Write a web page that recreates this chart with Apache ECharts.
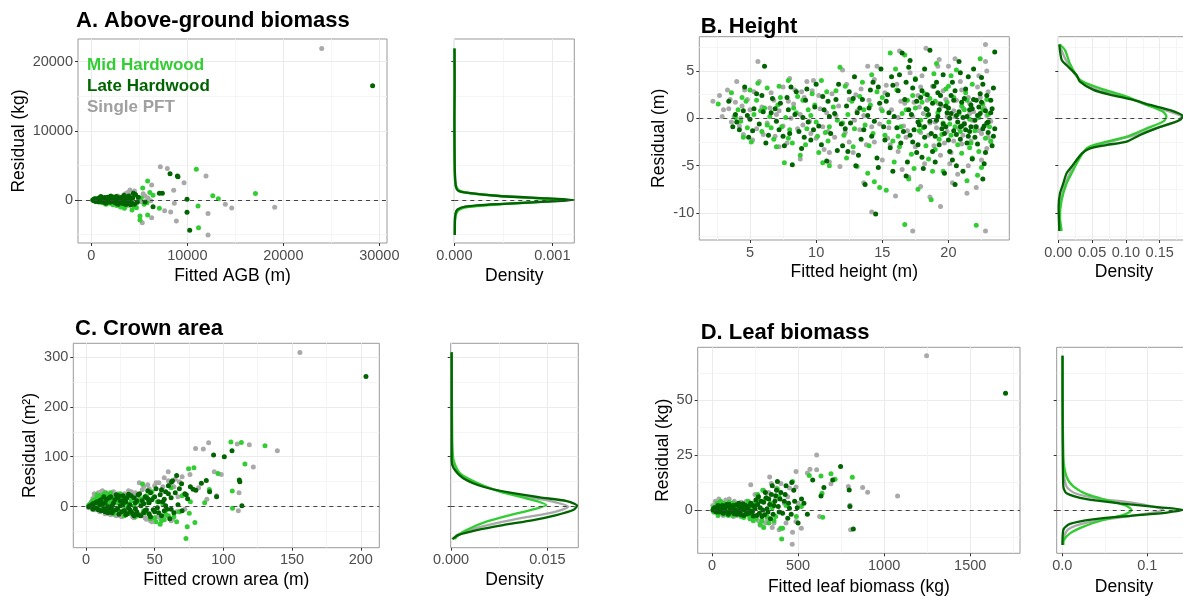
<!DOCTYPE html>
<html><head><meta charset="utf-8">
<script src="https://cdn.jsdelivr.net/npm/echarts@6/dist/echarts.min.js"></script>
<style>html,body{margin:0;padding:0;background:#fff}#c{width:1183px;height:600px}</style>
</head><body><div id="c"></div>
<script>
// ---------------- DATA ----------------
const groupNames = ['Single PFT', 'Mid Hardwood', 'Late Hardwood'];

// Panel A: Above-ground biomass  [fitted, residual]
const agbSingle = [[350,100],[750,-100],[1150,250],[1550,-250],[1950,400],[2350,-350],[2750,600],[3150,-500],[3550,900],[3950,-800],[4500,1300],[4700,-500],[5200,-200],[5600,600],[5900,300],[6200,-100],[4030,1440],[5310,-3280],[6290,2170],[6290,-2550],[7190,4810],[7640,-1540],[7920,4570],[8270,-1730],[8580,1400],[8650,-480],[8860,-3030],[9660,2500],[11950,3470],[12160,-1930],[12160,-5060],[13960,-625],[14625,-1160],[19100,-1060],[24000,21900],
  [500,0],[900,150],[1300,-150],[1700,200],[2100,-200],[2500,300],[2900,-300],[3300,500],[3700,-400],[4100,700],[4300,-300],[4900,200],[5400,900],[3800,1100]];
const agbMid = [[200,0],[450,200],[650,-200],[850,350],[1050,-300],[1250,150],[1450,-500],[1650,250],[1850,-150],[2050,600],[2250,-700],[2450,100],[2650,-800],[2850,400],[3050,-1000],[3250,250],[3450,-1200],[3650,500],[3850,-300],[4050,150],[4240,-1440],[4450,-900],[4700,-1100],[5070,-2310],[5070,-2890],[5200,300],[5350,1730],[5500,-600],[5800,-400],[5870,2750],[5870,-2170],[6100,1100],[6430,680],[7090,-1200],[10940,4430],[11120,-870],[11170,-4000],[12650,620],[13230,190],[17100,950],
  [300,-100],[550,100],[750,-300],[950,200],[1150,-400],[1350,300],[1550,-600],[1750,0],[1950,-450],[2150,350],[2350,-500],[2550,-200],[2750,-600],[2950,100],[3150,-800],[3350,-300],[3550,-900],[3750,100],[4150,-600],[4350,400]];
const agbLate = [[300,100],[400,-50],[500,-150],[600,50],[700,200],[800,-250],[900,-50],[1000,150],[1000,500],[1100,300],[1200,-100],[1300,-200],[1400,350],[1500,100],[1500,-450],[1600,-350],[1700,400],[1800,200],[1900,-300],[2000,-150],[2000,550],[2100,0],[2200,450],[2300,250],[2400,-50],[2500,-400],[2500,300],[2600,500],[2700,150],[2800,-600],[2900,-250],[3000,100],[3000,-150],[3100,350],[3200,-350],[3300,-500],[3400,700],[3500,200],[3600,-650],[3700,-100],[3900,600],[4100,-700],[4300,300],[4380,970],[4600,800],[4800,-300],[4900,400],[5600,-300],[6430,-960],[7090,970],[7400,970],[8200,3810],[8970,3470],[9030,3370],[9970,100],[9970,-1780],[10250,-4380],[29300,16500],
  [150,0],[250,-80],[350,180],[450,-200],[550,60],[650,-100],[750,250],[850,120],[950,-180],[1050,-20],[1150,180],[1250,-300],[1350,50],[1450,250],[1550,-150],[1650,-50],[1750,300],[1850,-200],[1950,100],[2050,-300],[2150,200],[2250,-100],[2350,400],[2450,-250],[2550,50],[2650,-450],[2750,350],[2850,0],[3050,-400],[3150,150],[3250,-200],[3450,400],[3550,-300],[3750,300],[3850,-500],[4000,200],[4200,-400],[4500,-600]];
// densities [density, residual]
const agbDensSingle = [[0.000004,-5060],[0.000005,-3000],[0.000012,-2000],[0.00003,-1400],[0.00012,-960],[0.00045,-580],[0.0009,-250],[0.00117,0],[0.0009,250],[0.00045,580],[0.00012,1060],[0.00004,1400],[0.000015,2000],[0.000006,4000],[0.000003,8000],[0.000002,14000],[0.000002,21900]];
const agbDensMid = [[0.000006,-5060],[0.000008,-3000],[0.00002,-2000],[0.00005,-1400],[0.00015,-1000],[0.00048,-600],[0.00088,-260],[0.00108,0],[0.00085,260],[0.00045,600],[0.00013,1050],[0.00004,1500],[0.00001,2500],[0.000004,4500],[0.000002,10000],[0.000002,21900]];
const agbDensLate = [[0.000005,-5060],[0.000006,-3000],[0.000012,-2000],[0.00003,-1400],[0.00011,-960],[0.00046,-580],[0.00094,-240],[0.00122,0],[0.00094,240],[0.00046,580],[0.000125,1060],[0.00004,1350],[0.000017,1930],[0.000006,4000],[0.000002,8000],[0.000001,12000],[0.000004,16500],[0.000002,21900]];

// Panel B: Height
const hSingle = [[2.2,1.8],[2.7,2.4],[3.3,3.0],[4.0,3.9],[3.4,1.0],[3.8,0.2],[4.2,-0.8],[4.5,-1.7],[4.8,2.0],[5.2,-2.3],[5.6,6.0],[5.7,3.9],[5.9,1.2],[6.3,-0.5],[6.6,2.7],[6.9,-1.9],[7.2,0.8],[7.5,3.3],[7.8,-2.6],[8.0,4.2],[8.3,1.5],[8.6,-1.1],[8.8,-4.3],[9.1,2.2],[9.3,3.9],[9.5,-0.3],[9.8,4.0],[10.0,-2.1],[10.3,1.0],[10.6,-3.3],[11.0,-4.6],[11.2,2.6],[11.5,0.3],[11.8,-5.1],[12.0,5.1],[12.2,-1.5],[12.5,2.0],[12.8,-3.6],[13.1,0.8],[13.4,3.1],[13.6,-6.8],[13.8,-2.8],[14.0,1.9],[14.2,-9.9],[14.4,4.1],[14.6,5.5],[14.8,-0.6],[15.0,-4.4],[15.2,2.7],[15.4,-2.1],[15.7,0.9],[16.0,-8.2],[16.1,3.6],[16.3,7.1],[16.5,-5.4],[16.7,1.6],[16.9,-1.3],[17.1,4.8],[17.3,-11.9],[17.5,-3.0],[17.7,2.4],[17.9,-7.2],[18.1,0.5],[18.3,7.4],[18.5,-1.8],[18.6,-8.3],[18.8,3.4],[19.0,-0.4],[19.2,5.5],[19.4,-9.3],[19.5,1.3],[19.7,-2.6],[19.9,0.2],[20.0,5.5],[20.2,-3.6],[20.3,-6.8],[20.5,6.3],[20.6,1.9],[20.8,-1.1],[21.0,3.0],[21.2,-0.5],[21.4,-7.9],[21.5,2.2],[21.7,-2.4],[21.9,0.7],[22.1,-7.3],[22.3,4.5],[22.5,-1.6],[22.7,1.1],[22.8,7.8],[22.8,6.0],[22.8,-11.9],[22.9,-3.2],[23.0,2.8],[23.2,-0.3],[20.4,0.8],[21.1,-1.8],[19.6,2.9],[18.9,-2.9],[22.0,-0.9],[21.6,1.6],[17.8,1.2],[16.6,-0.8],[15.5,-1.0],[12.9,-0.2],[10.8,0.6],[9.0,-0.7],[7.0,0.4],[5.0,0.9],[4.4,1.3],[3.6,-0.4],
  [17.3,0.2],[17.9,-1.5],[18.4,1.9],[19.1,-1.0],[19.8,2.0],[20.4,-2.4],[21.1,1.1],[21.8,-0.2],[22.4,2.2],[23.0,-2.0],[22.2,3.3],[20.9,3.9],[19.4,-3.9],[18.0,4.5],[16.4,1.8],[15.3,3.5],[14.4,-2.5],[13.3,-1.2],[12.3,3.6],[11.4,-2.0],[10.5,-0.9],[9.7,2.9],[8.8,0.4],[7.9,1.8],[7.2,-3.0],[6.5,1.1],[5.5,-1.1],[4.6,3.0],[3.9,1.7],[3.0,0.9],[21.5,-5.0],[16.2,-3.5],[13.9,5.5],[11.0,-3.6],[8.4,3.0],[22.9,5.0],[19.3,6.2],[20.7,-5.9],
  [2.9,0.2],[3.5,2.0],[4.3,0.0],[5.3,2.8],[6.0,-1.7],[6.8,1.9],[7.5,-0.8],[8.1,0.0],[8.9,2.8],[9.6,-1.6],[10.2,2.4],[10.9,-1.4],[11.7,1.3],[12.5,-2.5],[13.0,2.5],[13.6,0.3],[14.2,-0.9],[14.9,1.0],[15.6,-2.8],[16.2,0.1],[16.8,-2.0],[17.4,1.7],[17.9,3.3],[18.6,-0.5],[19.2,1.6],[19.9,-1.4],[20.5,0.2],[21.0,-2.7],[21.6,0.5],[22.3,-1.3],[22.9,0.3],[23.2,-2.5],[18.2,-4.8],[20.1,-4.8],[22.5,-4.4],[17.0,-6.2]];
const hMid = [[2.6,1.5],[3.6,2.7],[4.3,-0.3],[4.7,1.8],[5.1,-2.5],[5.6,3.7],[5.9,-1.4],[6.3,3.2],[6.5,0.2],[6.8,-2.2],[7.1,1.4],[7.4,-0.9],[7.6,-4.7],[7.9,4.0],[8.2,-2.6],[8.5,0.6],[8.8,-3.9],[9.0,1.9],[9.3,-1.1],[9.7,2.6],[10.0,-0.4],[10.4,4.0],[10.5,-4.7],[10.9,-2.4],[11.3,1.2],[11.8,5.4],[12.1,-1.8],[12.4,0.4],[12.8,-3.0],[13.1,-5.1],[13.3,2.3],[13.7,-0.7],[14.1,1.4],[14.4,-6.7],[14.8,-7.3],[15.0,0.8],[15.3,-7.6],[15.6,6.9],[15.8,-2.4],[16.1,3.0],[16.4,-0.9],[16.7,6.7],[16.7,-11.2],[16.9,1.9],[17.2,-3.8],[17.5,4.2],[17.7,-7.5],[17.9,-0.2],[18.2,2.6],[18.5,-4.3],[18.7,-8.6],[18.9,4.7],[19.2,0.6],[19.5,-1.7],[19.8,3.1],[20.1,-0.6],[20.4,2.2],[20.7,-2.8],[21.0,1.3],[21.4,-6.6],[21.6,-0.1],[21.8,3.6],[22.1,-11.3],[22.2,-6.0],[22.4,6.3],[22.6,1.5],[22.8,-2.1],[23.0,0.4],[20.9,-1.4],[19.0,-3.3],[18.0,1.7],[16.2,-1.9],[14.6,2.8],[12.7,1.8],[11.0,-0.9],[9.6,0.3],[8.0,-1.2],[6.1,1.1],[5.3,0.4],[4.1,0.9],[21.3,2.7],[20.2,4.5],[17.4,-5.3],[15.9,-4.6],[13.9,-5.8],[10.2,-3.6],[7.3,2.2],[22.3,-3.5],[19.6,-5.6],[21.8,-4.2],
  [17.5,1.1],[18.1,-1.0],[18.6,2.1],[19.3,-2.2],[19.9,1.7],[20.5,-0.9],[21.2,0.9],[21.7,-2.6],[22.3,0.1],[22.9,2.0],[20.0,3.4],[21.0,-3.7],[22.5,-5.2],[18.3,-2.9],[16.5,0.5],[15.2,-1.8],[14.0,-2.9],[13.5,3.8],[12.0,-0.5],[11.5,2.9],[10.7,-1.5],[9.9,1.4],[9.2,-2.8],[8.6,2.3],[7.7,0.1],[7.0,-3.0],[6.3,-0.7],[5.5,1.9],[4.8,-1.0],[4.4,2.2],[3.9,0.1],[16.0,5.2],[12.3,-4.2],[23.1,-0.9],[19.1,5.8],[17.0,-6.4],
  [4.5,-2.0],[5.0,3.0],[5.8,0.8],[6.6,-1.0],[7.2,3.4],[7.9,-2.1],[8.3,1.1],[9.4,0.9],[10.1,-1.9],[10.8,2.8],[11.6,-0.2],[12.2,3.4],[12.9,-1.1],[13.6,0.9],[14.3,-1.6],[15.0,2.2],[15.5,-0.4],[16.3,-3.0],[16.8,0.9],[17.3,2.4],[17.8,-1.3],[18.4,0.3],[19.0,1.8],[19.6,-0.5],[20.2,-1.8],[20.8,0.5],[21.4,1.9],[22.0,-1.3],[22.6,0.9],[23.2,-2.4],[21.6,-3.1],[18.8,-5.6],[20.6,5.1],[14.2,4.6],[11.0,-5.0]];
const hLate = [[3.4,1.8],[3.9,0.4],[4.2,-1.2],[4.6,3.3],[4.9,-2.0],[5.3,1.0],[5.7,-0.6],[6.1,5.5],[6.4,-1.8],[6.7,2.1],[7.0,-0.3],[7.3,1.6],[7.6,-2.9],[7.9,0.9],[8.2,-4.9],[8.5,2.8],[8.7,-1.4],[9.0,0.1],[9.3,3.1],[9.6,-2.3],[9.9,1.2],[10.2,-0.8],[10.5,2.3],[10.8,-4.5],[11.1,-1.6],[11.4,0.5],[11.7,3.6],[12.0,-2.9],[12.3,1.3],[12.6,-0.5],[12.9,4.4],[13.2,-3.9],[13.5,2.0],[13.7,-7.0],[13.9,0.3],[14.2,-1.9],[14.5,-10.1],[14.7,3.3],[14.9,5.2],[15.1,-0.9],[15.3,1.8],[15.6,-3.1],[15.9,0.2],[16.2,2.9],[16.5,6.9],[16.6,-1.4],[16.8,-6.1],[17.0,0.9],[17.3,-2.5],[17.5,4.1],[17.7,-0.4],[17.9,2.2],[18.1,-5.3],[18.3,1.0],[18.6,7.2],[18.7,-1.6],[18.9,3.4],[19.1,-0.2],[19.3,-2.8],[19.4,1.5],[19.6,4.6],[19.8,-0.9],[19.9,0.6],[20.1,-3.5],[20.2,2.4],[20.4,-1.3],[20.5,-7.0],[20.6,0.3],[20.8,6.0],[20.9,-2.2],[21.0,1.7],[21.2,-0.6],[21.3,3.1],[21.5,-1.9],[21.6,0.9],[21.8,-4.3],[21.9,2.0],[22.0,-0.2],[22.2,-2.7],[22.3,1.2],[22.5,4.3],[22.6,-6.4],[22.7,-0.8],[22.9,2.4],[23.0,-1.5],[23.2,0.6],[23.3,-2.9],[23.5,7.0],[23.4,3.2],[19.5,-1.1],[20.0,1.1],[20.7,-0.4],[21.1,0.1],[21.7,-0.9],[22.4,0.5],[18.5,0.4],[19.2,2.7],[20.3,3.8],[21.4,-2.6],[22.1,1.9],[17.6,-3.6],[16.4,-2.6],[15.4,2.5],[14.0,1.1],[12.2,-1.1],[10.6,0.9],[9.1,-2.0],[7.8,2.2],[6.0,0.7],[5.0,-0.1],[13.0,-5.0],[18.0,-4.1],[20.6,-5.0],[22.8,-3.6],
  [17.2,0.4],[17.4,-1.2],[17.6,1.8],[17.8,-0.7],[18.0,2.9],[18.2,-2.0],[18.4,0.9],[18.6,-0.3],[18.8,1.6],[19.0,-1.9],[19.2,0.2],[19.4,2.4],[19.6,-0.6],[19.8,1.3],[20.0,-2.3],[20.2,0.5],[20.4,1.9],[20.6,-1.7],[20.8,0.7],[21.0,-0.8],[21.2,2.1],[21.4,0.2],[21.6,-1.4],[21.8,1.0],[22.0,-2.0],[22.2,0.3],[22.4,2.6],[22.6,-1.1],[22.8,0.8],[23.0,-0.4],[23.2,1.9],[23.4,-1.9],[19.1,3.8],[20.3,-4.4],[21.5,4.4],[22.7,-4.8],[18.2,5.2],[19.7,-5.8],[21.9,5.2],[16.8,3.8],[15.7,4.4],[14.6,-4.2],[13.4,-2.2],[12.5,2.8],[11.6,-3.4],[10.9,1.8],[10.0,3.6],[9.4,-0.4],[8.9,-3.2],[8.0,-1.6],[7.2,-1.2],[6.6,0.6],[5.9,2.4],[5.2,-1.3],[4.5,0.8],[4.0,-0.4],[14.3,3.8],[13.1,0.6],[15.8,-5.6],[16.9,-4.6],[17.1,6.1],[20.9,4.8],
  [3.7,-0.9],[4.8,0.3],[5.5,2.6],[6.2,-2.6],[6.9,1.0],[7.5,-1.9],[8.1,3.3],[8.4,0.4],[9.2,1.9],[9.8,-1.2],[10.4,-2.8],[11.0,0.2],[11.5,2.0],[11.9,-0.6],[12.4,-3.5],[12.8,2.1],[13.3,1.1],[13.6,-1.2],[14.1,3.0],[14.4,-0.3],[14.8,1.6],[15.2,-2.3],[15.5,0.6],[15.8,3.5],[16.1,-1.0],[16.3,4.6],[16.7,2.0],[17.1,-1.8],[17.3,3.2],[17.7,-2.8],[18.2,-0.9],[18.4,2.5],[18.8,-3.5],[19.3,0.9],[19.7,-1.6],[20.1,0.0],[20.5,2.9],[20.9,-0.9],[21.3,-1.2],[21.7,1.4],[22.1,-0.9],[22.5,1.7],[22.9,-0.5],[23.3,1.0],[23.5,-1.1],[19.0,-4.6],[21.1,-5.6],[17.0,5.4],[14.7,-5.2],[22.6,3.6]];
const hDensSingle = [[0.0015,-11.9],[0.0025,-9.33],[0.0074,-7.57],[0.0148,-6.16],[0.0247,-4.75],[0.042,-3.27],[0.067,-2.64],[0.111,-1.83],[0.145,-1.0],[0.175,-0.35],[0.182,0.18],[0.165,0.7],[0.136,1.3],[0.101,2.2],[0.057,3.06],[0.030,4.2],[0.0123,6.0],[0.0015,7.8]];
const hDensMid = [[0.005,-11.9],[0.0025,-10.4],[0.005,-8.63],[0.0123,-6.87],[0.0197,-5.81],[0.030,-4.4],[0.042,-3.17],[0.062,-2.64],[0.101,-1.94],[0.131,-1.06],[0.155,-0.35],[0.160,0.18],[0.155,0.7],[0.131,1.41],[0.101,2.29],[0.062,3.17],[0.032,4.05],[0.017,5.8],[0.01,7.2],[0.0025,7.8]];
const hDensLate = [[0.0015,-11.9],[0.0005,-9.33],[0.0025,-7.92],[0.0074,-6.87],[0.0123,-5.8],[0.0197,-5.1],[0.035,-3.7],[0.047,-3.17],[0.071,-2.82],[0.101,-2.46],[0.121,-1.76],[0.145,-1.06],[0.18,-0.18],[0.184,0.25],[0.165,0.88],[0.136,1.41],[0.111,1.94],[0.076,2.5],[0.052,3.0],[0.032,3.87],[0.027,4.58],[0.0123,5.6],[0.005,6.16],[0.0015,7.8]];

// Panel C: Crown area
const caSingle = [[2,-2],[4,10],[6,20],[7,-6],[9,28],[10,-10],[12,32],[14,-14],[16,24],[18,-16],[20,30],[22,-18],[24,14],[26,-20],[28,26],[30,-12],[33,30],[35,-22],[37,20],[38.8,48],[40,-15],[42,40],[44,-25],[46,36],[48,-30],[49,-26.7],[50,42],[52,-20],[53,48],[55,30],[57,58],[58,-18],[59.9,70],[61,45],[63,-25],[65,55],[67,20],[70,60],[72,-5],[75.7,64.7],[79.8,116.7],[82,38],[85.4,115.4],[88,15],[89.3,128],[93.4,70],[95.1,22],[98.5,64.7],[110.1,125.4],[110.9,-8],[111.4,28],[118.9,124],[121.8,79.4],[139.3,112],[155.7,308.8],
  [3,6],[5,16],[6,26],[8,-4],[11,30],[13,-8],[15,28],[17,-14],[19,22],[21,-16],[23,26],[25,-18],[27,20],[29,-14],[31,32],[34,-20],[36,28],[39,-18],[41,34],[43,-22],[45,44],[47,-28],[51,48],[54,-22],[56,40],[60,52],[62,-28],[64,40],[66,-10],[68,50]];
const caMid = [[3,5],[5,12],[6,-3],[8,18],[9,8],[10,22],[11,-6],[12,15],[13,25],[14,3],[15,20],[16,-10],[17,12],[18,28],[19,4],[20,-14],[21,16],[23,8],[25,-10],[26,20],[28,-18],[30,6],[32,-12],[34,18],[36,-20],[38,10],[41.2,45.4],[42,-8],[44,22],[46,-16],[48,30],[50,-22],[52,10],[54,-35],[55,-28],[56,5],[58,-15],[60,-18],[62,38],[64,-20],[66,-30],[67.9,-10],[68,-10],[70,22],[72.8,-63.4],[73.7,-40],[74.7,76],[75.2,-13.3],[76,10],[78.6,78],[79.3,-31.4],[86.4,8],[89.8,34.7],[96.1,66.7],[105.5,129.4],[106.5,31.4],[106.7,-3.3],[113.1,128.7],[115.7,85.4],[130.3,122],
  [2,3],[4,8],[6,14],[7,-1],[9,16],[10,-4],[11,20],[12,2],[13,12],[15,-6],[16,24],[17,4],[19,18],[20,-6],[22,14],[24,-12],[26,8],[28,-4],[29,20],[31,-14],[33,12],[35,2],[37,-16],[40,16],[43,-12],[45,8],[47,-24],[49,18],[51,-30],[57,-26],[8,24],[14,28],[18,10],[25,26]];
const caLate = [[2,0],[4,3],[5,-5],[7,8],[8,-3],[10,12],[11,-8],[12,5],[14,-10],[15,15],[16,0],[18,20],[19,-12],[20,7],[22,-6],[23,18],[24,-15],[25,2],[27,22],[28,-8],[29,10],[30,-14],[31,25],[32,4],[33,-10],[35,18],[36,-4],[37,12],[38,-16],[39,26],[40,2],[42,-12],[43,20],[44,-6],[45,32],[46,8],[47,-20],[48,14],[50,-10],[51,36],[52,-2],[54,24],[55,-18],[56,10],[57,15],[58,30],[59,-5],[60,42],[61,-24],[62,18],[62,-5],[62.3,49.4],[63,52],[64,-12],[65,28],[66,62.7],[67,4],[68,36],[69.6,46],[70,-8],[72,26],[73,24],[74,16],[76,40],[78,35],[80,33],[84,47],[87.6,52.7],[90,30],[92.9,103.4],[95.1,20],[100.7,100],[106.3,112],[111.6,53.4],[112,50],[113.5,2],[203.8,260.8],
  [3,2],[5,6],[6,-2],[8,10],[9,-6],[11,14],[13,-4],[14,8],[16,-12],[17,18],[19,2],[20,-8],[21,14],[23,-4],[24,22],[26,-10],[27,6],[29,-16],[30,18],[32,-6],[33,22],[34,-14],[36,8],[37,-10],[38,24],[40,-18],[41,12],[43,-8],[44,18],[46,-14],[47,28],[49,-6],[50,20],[53,-12],[55,34],[57,-8],[58,2],[60,26],[13,20],[18,-4],[25,12],[35,-18],[45,16],[28,14],[22,24],[15,-8],[10,4],[31,-2],[42,6],[53,10]];
const caDensSingle = [[0.0004,-65],[0.0009,-56.7],[0.0029,-46.7],[0.0071,-33],[0.0117,-21],[0.0159,-11.3],[0.0182,0],[0.0154,11.3],[0.0112,21],[0.0071,33],[0.0035,50],[0.0009,70],[0.0002,100],[0.0001,200],[0.0001,309]];
const caDensMid = [[0.0006,-65],[0.0009,-60],[0.0024,-46.7],[0.0055,-30],[0.0092,-16.7],[0.0128,-5.3],[0.0148,3.3],[0.0117,16.7],[0.0076,30],[0.004,48],[0.0014,66.7],[0.0004,93],[0.0002,130],[0.0001,309]];
const caDensLate = [[0.0002,-65],[0.0011,-56.7],[0.004,-46.7],[0.0081,-36.7],[0.0128,-26.7],[0.0164,-16.7],[0.019,-6.7],[0.0196,2],[0.018,11.3],[0.0138,18.7],[0.0092,28],[0.005,40],[0.0019,57],[0.0004,77],[0.0001,93],[0.0001,150],[0.0001,309]];

// Panel D: Leaf biomass
const lbSingle = [[5,2],[20,4],[35,-1],[50,3.5],[65,-2.5],[80,4.5],[95,-1.5],[110,3],[125,-3],[140,2],[155,-2],[170,3.5],[190,-1],[210,2.5],[225,11.5],[240,-3.5],[260,5],[280,-7],[300,9],[320,-4],[335,15],[345,12],[360,-6],[375,10],[390,-9],[420,3],[440,6],[466,-15.7],[468,-10.2],[488,10.4],[488,17.5],[488,-5.3],[500,3],[519,-8.4],[554,16.8],[569,18.6],[608,18.3],[608,25.1],[625,-3],[691,11.9],[792,10.7],[801,2.1],[805,-9.1],[875,10.2],[904,8.1],[1078,6.4],[1246.6,70.4],
  [10,-1],[25,2.5],[40,5],[55,-1],[70,3],[85,-2],[100,5],[115,0],[130,4],[145,-2.5],[160,3],[180,-3],[200,4],[220,-2],[250,7],[270,-5],[290,4],[310,-6],[330,8],[350,-8],[370,5],[400,12],[430,-6],[450,10]];
const lbMid = [[8,1],[20,-0.5],[30,3],[40,-1.5],[50,4],[60,0.5],[70,-2],[80,2],[90,-1],[100,3.5],[110,0],[120,-2.5],[130,1.5],[140,-1],[160,2.5],[170,-3],[180,1],[200,-2],[210,4],[220,-4],[230,0.5],[240,-5],[250,2.5],[265,7],[280,-6.5],[295,9],[300,-8],[320,-3],[340,3],[360,-5],[380,9.5],[400,-8.4],[410,-8.4],[405,-13.3],[430,2],[468,13],[490,-3],[519,1.5],[565,15.7],[633,15.5],[639,7.6],[643,-3.4],[691,16.5],[715,14],[815,14.9],
  [12,-1],[25,1.5],[35,-2.5],[45,2.5],[55,-0.8],[65,3],[75,-1],[85,0.5],[95,-2.5],[105,2],[115,-1.5],[125,3],[135,-2.2],[150,1],[165,-1],[185,-3.5],[195,2],[215,-2.5],[235,3],[255,-4],[270,4],[290,-5],[310,5],[330,-6],[350,1],[370,-3],[390,6]];
const lbLate = [[5,0],[15,1],[25,-1],[35,2],[45,-0.5],[55,1.5],[65,-1.5],[75,0.5],[85,2.5],[95,-2],[105,1],[115,-1],[125,2],[135,0],[145,-2],[155,3],[165,-0.5],[175,1],[185,-2.5],[195,2],[205,0.3],[215,-1.5],[225,3],[235,-0.8],[245,1.8],[255,4.5],[260,-2.5],[270,6],[280,1],[290,-3],[300,3.5],[310,8],[320,0.5],[330,5],[340,-4],[350,11],[360,2],[370,6.5],[380,13],[390,-1],[400,8],[420,4],[430,11],[440,-3.8],[450,0.8],[463,12.5],[480,4],[500,-6],[520,5],[534,3],[554,-2],[585,13.7],[633,6.4],[650,10.2],[701,13.7],[747,19.8],[797,9.1],[801,1.5],[821,-8.7],[1705,53.2],
  [10,0.5],[20,-0.5],[30,1],[40,-1],[50,0.3],[60,2],[70,-0.5],[80,1.5],[90,-1.2],[100,2.5],[110,-0.3],[120,0.8],[130,-1.8],[140,2.2],[150,-0.8],[160,1.2],[170,-2.2],[180,2.8],[190,0],[200,-1.8],[210,1.5],[220,-0.5],[230,2.2],[240,-2.8],[250,0.5],[265,2.5],[275,-1.5],[285,4],[295,0],[305,-2.2],[315,5.5],[325,-1],[335,2.5],[345,7],[355,-2],[365,4],[375,9],[385,1.5],[395,5],[410,-1.5],[425,7],[445,3],[460,-2],[475,9],[495,1]];
const lbDensSingle = [[0.0004,-16],[0.0012,-13],[0.007,-8.8],[0.029,-5.8],[0.068,-3.4],[0.103,-1.5],[0.119,0],[0.107,1.5],[0.08,3.4],[0.04,5.3],[0.015,7.6],[0.005,10.7],[0.0012,19.8],[0.0004,70.4]];
const lbDensMid = [[0.0012,-16],[0.002,-13.7],[0.009,-10.7],[0.025,-7.6],[0.048,-4.6],[0.072,-2.3],[0.0816,0],[0.0757,1.8],[0.056,4.1],[0.0286,7.2],[0.013,10.7],[0.005,15.2],[0.0012,24.4],[0.0004,70.4]];
const lbDensLate = [[0.0002,-16],[0.0012,-9.1],[0.009,-6.4],[0.036,-4.3],[0.08,-2.7],[0.123,-1.2],[0.142,0],[0.115,1.2],[0.0678,3.0],[0.0286,4.9],[0.005,7.6],[0.0012,10.7],[0.0004,35],[0.0002,70.4]];

// tick values
const agbXTicks = [0,10000,20000,30000], agbYTicks = [0,10000,20000], agbDTicks = [0,0.001];
const hXTicks = [5,10,15,20], hYTicks = [-10,-5,0,5], hDTicks = [0,0.05,0.10,0.15];
const caXTicks = [0,50,100,150,200], caYTicks = [0,100,200,300], caDTicks = [0,0.015];
const lbXTicks = [0,500,1000,1500], lbYTicks = [0,25,50], lbDTicks = [0,0.1];

// ---------------- STYLE / LAYOUT ----------------
const FONT = "'Liberation Sans', Arial, Helvetica, sans-serif";
const COLORS = {'Single PFT':'#A9A9A9','Mid Hardwood':'#32CD32','Late Hardwood':'#006400'};

const panels = [
  {title:'A. Above-ground biomass', tpos:[76,10],
   sc:{left:78,top:39,width:309,height:204}, de:{left:454.3,top:39,width:120,height:204},
   xr:[-1385,30800], yr:[-6210,23270], dr:[0,0.001224],
   xt:agbXTicks, xm:[5000,15000,25000], yt:agbYTicks, ym:[-5000,5000,15000], dt:agbDTicks, dm:[0.0005],
   dfmt:v=>v.toFixed(3), xname:'Fitted AGB (m)', yname:'Residual (kg)', xgap:24, ygap:50,
   pts:[agbSingle,agbMid,agbLate], dens:[agbDensSingle,agbDensMid,agbDensLate]},
  {title:'B. Height', tpos:[700.7,16],
   sc:{left:699.3,top:36.7,width:310,height:203.3}, de:{left:1058.3,top:36.7,width:131.4,height:203.3},
   xr:[1.17,24.6], yr:[-12.85,8.62], dr:[0,0.1944],
   xt:hXTicks, xm:[2.5,7.5,12.5,17.5,22.5], yt:hYTicks, ym:[-12.5,-7.5,-2.5,2.5,7.5], dt:hDTicks, dm:[0.025,0.075,0.125,0.175],
   dfmt:v=>v.toFixed(2), xname:'Fitted height (m)', yname:'Residual (m)', xgap:23, ygap:31,
   pts:[hSingle,hMid,hLate], dens:[hDensSingle,hDensMid,hDensLate]},
  {title:'C. Crown area', tpos:[75,318],
   sc:{left:73.3,top:343.3,width:306,height:204.4}, de:{left:450.7,top:343.3,width:127.6,height:204.4},
   xr:[-9.2,213.5], yr:[-82,327], dr:[-0.00005,0.0198],
   xt:caXTicks, xm:[25,75,125,175], yt:caYTicks, ym:[-50,50,150,250], dt:caDTicks, dm:[0.0075],
   dfmt:v=>v.toFixed(3), xname:'Fitted crown area (m)', yname:'Residual (m²)', xgap:23, ygap:34,
   pts:[caSingle,caMid,caLate], dens:[caDensSingle,caDensMid,caDensLate]},
  {title:'D. Leaf biomass', tpos:[700.7,322],
   sc:{left:697.7,top:347.3,width:322.3,height:206}, de:{left:1056.7,top:347.3,width:134.6,height:206},
   xr:[-83,1789], yr:[-19.8,74.2], dr:[-0.0066,0.1518],
   xt:lbXTicks, xm:[250,750,1250,1750], yt:lbYTicks, ym:[-12.5,12.5,37.5,62.5], dt:lbDTicks, dm:[0.05,0.15],
   dfmt:v=>v.toFixed(1), xname:'Fitted leaf biomass (kg)', yname:'Residual (kg)', xgap:25, ygap:26,
   pts:[lbSingle,lbMid,lbLate], dens:[lbDensSingle,lbDensMid,lbDensLate]}
];

const grids = [], xAxes = [], yAxes = [], series = [], titles = [];

function addAxis(list, gi, dim, range, majors, minors, opt) {
  list.push({
    type:'value', gridIndex:gi, min:range[0], max:range[1],
    position: dim==='x' ? 'top' : 'right',
    axisLine:{show:false,onZero:false}, axisTick:{show:false, customValues:minors},
    axisLabel:{show:false, customValues:minors},
    splitLine:{show:true, lineStyle:{color:'#F3F3F3', width:0.8}}
  });
  list.push({
    type:'value', gridIndex:gi, min:range[0], max:range[1],
    position: dim==='x' ? 'bottom' : 'left',
    axisLine:{show:false,onZero:false},
    axisTick:{show:true, customValues:majors, length:3, lineStyle:{color:'#333', width:1}},
    axisLabel:{show:opt.labels, customValues:majors, formatter:opt.fmt, color:'#4D4D4D',
      fontSize:14.5, margin:5, fontFamily:FONT, showMinLabel:true, showMaxLabel:true},
    splitLine:{show:true, lineStyle:{color:'#EBEBEB', width:1}},
    name:opt.name||'', nameLocation:'middle', nameGap:opt.gap||0,
    nameTextStyle:{fontSize:17.5, color:'#000', fontFamily:FONT}
  });
  return list.length - 1;
}

const gridBase = {show:true, borderColor:'#999', borderWidth:1, backgroundColor:'#fff', containLabel:false, outerBoundsMode:'none'};

panels.forEach((p) => {
  titles.push({text:p.title, left:p.tpos[0], top:p.tpos[1], padding:0,
    textStyle:{fontSize:22, fontWeight:'bold', color:'#000', fontFamily:FONT}});
  const gs = grids.length;
  grids.push(Object.assign({}, gridBase, p.sc));
  const xs = addAxis(xAxes, gs, 'x', p.xr, p.xt, p.xm, {labels:true, fmt:v=>String(v), name:p.xname, gap:p.xgap});
  const ys = addAxis(yAxes, gs, 'y', p.yr, p.yt, p.ym, {labels:true, fmt:v=>String(v), name:p.yname, gap:p.ygap});
  const gd = grids.length;
  grids.push(Object.assign({}, gridBase, p.de));
  const xd = addAxis(xAxes, gd, 'x', p.dr, p.dt, p.dm, {labels:true, fmt:p.dfmt, name:'Density', gap:p.xgap});
  const yd = addAxis(yAxes, gd, 'y', p.yr, p.yt, p.ym, {labels:false});

  const zeroLine = {silent:true, symbol:'none', label:{show:false}, animation:false,
        lineStyle:{type:[4,4], color:'#444', width:1}, data:[{yAxis:0}]};
  groupNames.forEach((g, k) => {
    series.push({
      type:'scatter', name:g, xAxisIndex:xs, yAxisIndex:ys, data:p.pts[k],
      symbol:'circle', symbolSize:5, itemStyle:{color:COLORS[g], opacity:1}, silent:true,
      markLine: k===2 ? zeroLine : undefined
    });
  });
  groupNames.forEach((g, k) => {
    series.push({
      type:'line', name:g, xAxisIndex:xd, yAxisIndex:yd, data:p.dens[k],
      showSymbol:false, smooth:0.25, lineStyle:{color:COLORS[g], width:2.3}, itemStyle:{color:COLORS[g]},
      silent:true,
      markLine: k===2 ? zeroLine : undefined
    });
  });
});

const chart = echarts.init(document.getElementById('c'), null, {renderer:'canvas'});
chart.setOption({
  animation:false,
  backgroundColor:'#fff',
  title:titles,
  legend:{left:77, top:52, orient:'vertical', itemGap:4, icon:'none', itemWidth:0, itemHeight:0,
    selectedMode:false,
    textStyle:{fontSize:17, fontWeight:'bold', fontFamily:FONT},
    data:[{name:'Mid Hardwood', textStyle:{color:'#32CD32'}},
          {name:'Late Hardwood', textStyle:{color:'#006400'}},
          {name:'Single PFT', textStyle:{color:'#A0A0A0'}}]},
  grid:grids, xAxis:xAxes, yAxis:yAxes, series:series
});
</script></body></html>
